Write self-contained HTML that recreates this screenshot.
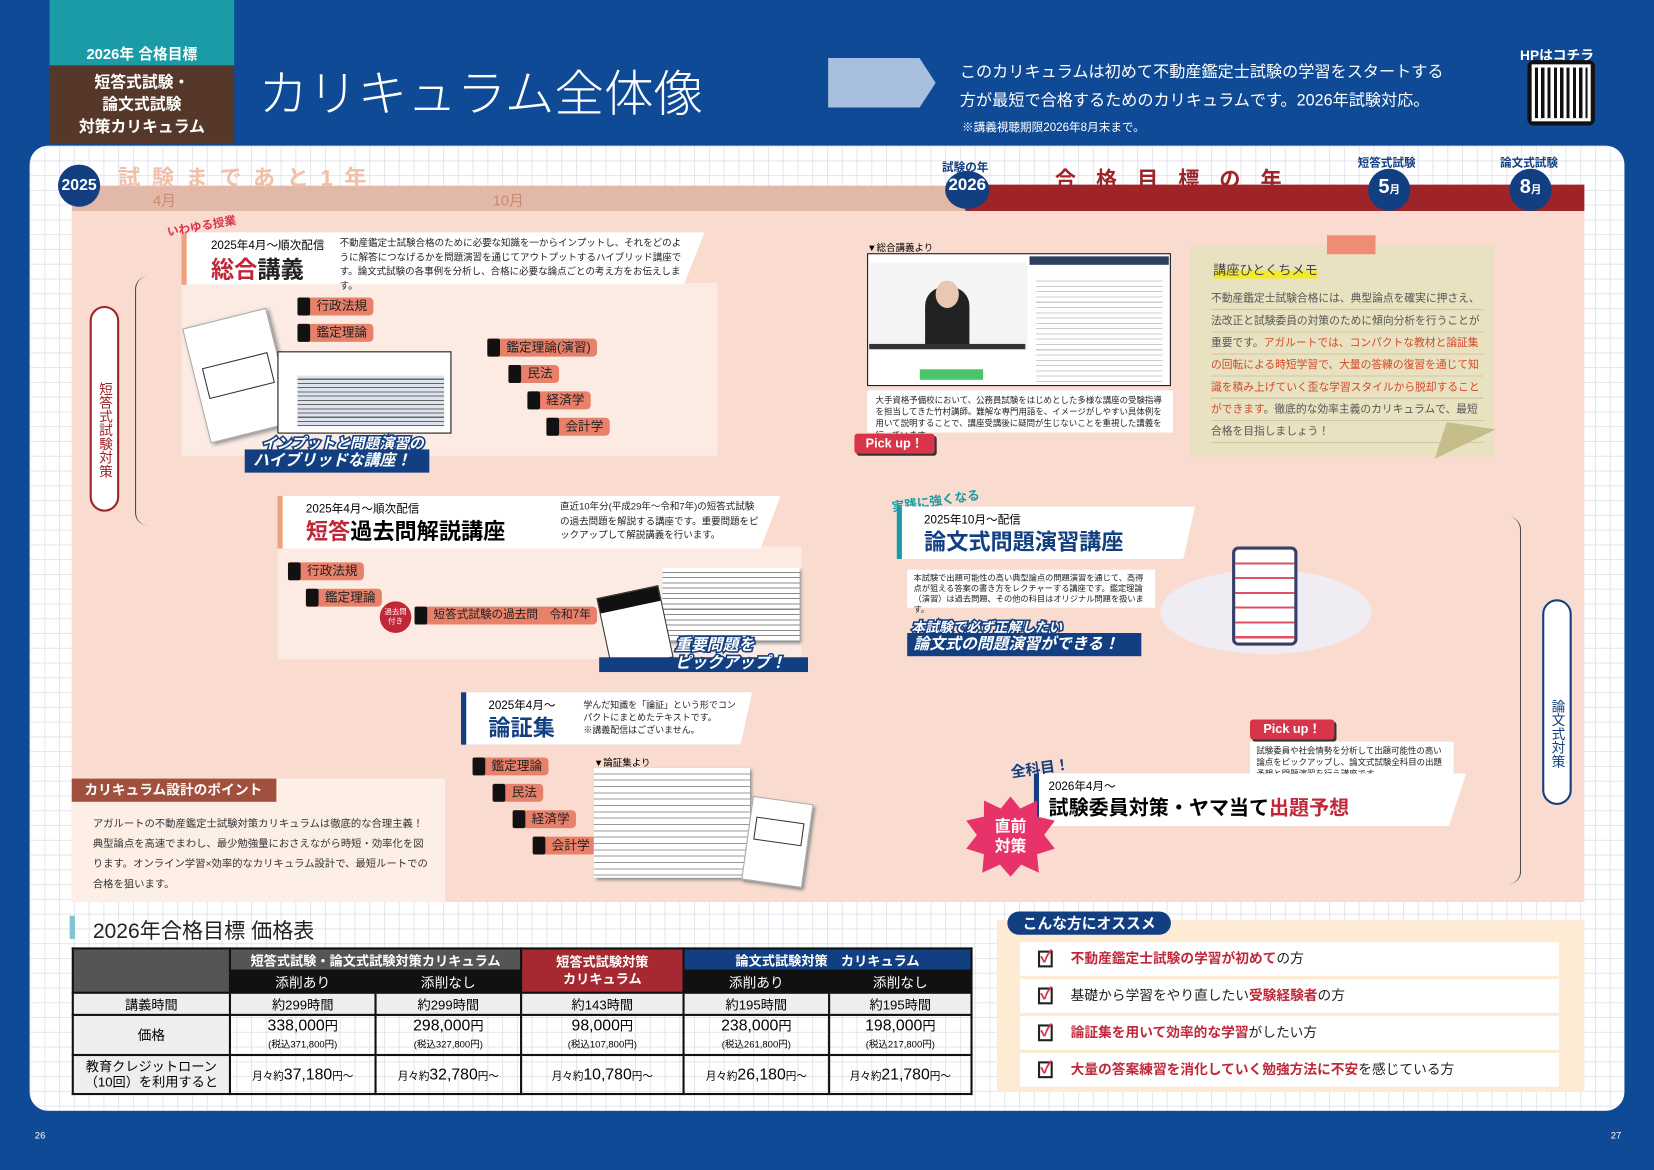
<!DOCTYPE html>
<html><head><meta charset="utf-8">
<style>
*{margin:0;padding:0;box-sizing:border-box}
html,body{width:1654px;height:1170px;overflow:hidden;background:#0f4a96}
body{font-family:"Liberation Sans","Noto Sans CJK JP",sans-serif}
#w{position:absolute;left:0;top:0;width:1568px;height:1109px;transform:scale(1.05485,1.055);transform-origin:0 0;background:#0f4a96}
.a{position:absolute}
.grid{background-color:#fff;background-image:linear-gradient(#e2e5ec 1px,transparent 1px),linear-gradient(90deg,#e2e5ec 1px,transparent 1px);background-size:14px 14px}
.tag{position:absolute;height:17px;background:#e8806a;color:#222;font-size:12px;line-height:17px;padding:0 6px 0 18px;border-radius:0 4px 4px 0;white-space:nowrap}
.tag:before{content:"";position:absolute;left:0;top:0;width:12px;height:17px;background:#111;border-radius:2px}
.card{position:absolute;background:#fff;box-shadow:3px 3px 4px rgba(0,0,0,.25);clip-path:polygon(0 0,100% 0,96% 100%,0 100%)}
.sm{font-size:9px;line-height:13.5px;color:#222}
.circ{position:absolute;border-radius:50%;background:#123f82;color:#fff;font-weight:bold;text-align:center}
table{border-collapse:collapse;font-size:12px;text-align:center}
td{border:2px solid #111;padding:0}
</style></head><body><div id="w">
<!-- header -->
<div class="a" style="left:47px;top:0;width:175px;height:62px;background:#1a9ba6;color:#fff;font-size:14px;font-weight:bold;text-align:center;padding-top:41px">2026年 合格目標</div>
<div class="a" style="left:47px;top:62px;width:175px;height:74px;background:#56382a;color:#fff;font-size:15px;font-weight:bold;text-align:center;line-height:21px;padding-top:6px">短答式試験・<br>論文式試験<br>対策カリキュラム</div>
<div class="a" style="left:245px;top:50px;color:#fff;font-size:47px;font-weight:300;white-space:nowrap">カリキュラム全体像</div>
<div class="a" style="left:785px;top:55px;width:102px;height:47px;background:#a8bfe0;clip-path:polygon(0 0,85% 0,100% 50%,85% 100%,0 100%)"></div>
<div class="a" style="left:910px;top:55px;color:#fff;font-size:15.3px;line-height:27px;white-space:nowrap">このカリキュラムは初めて不動産鑑定士試験の学習をスタートする<br>方が最短で合格するためのカリキュラムです。2026年試験対応。</div>
<div class="a" style="left:912px;top:112px;color:#fff;font-size:11px">※講義視聴期限2026年8月末まで。</div>
<div class="a" style="left:1441px;top:42px;color:#fff;font-size:13px;font-weight:bold">HPはコチラ</div>
<div class="a" style="left:1448px;top:57px;width:64px;height:62px;background:#111;border-radius:6px;padding:7px"><div style="width:100%;height:100%;background:repeating-linear-gradient(90deg,#111 0 3px,#fff 3px 6px),#fff;outline:3px solid #fff"></div></div>
<!-- panel -->
<div class="a grid" style="left:28px;top:138px;width:1512px;height:915px;border-radius:18px"></div>
<!-- timeline -->
<div class="a" style="left:68px;top:176px;width:850px;height:24px;background:#e2b9a9"></div>
<div class="a" style="left:915px;top:175px;width:587px;height:25px;background:#9e2428"></div>
<div class="a" style="left:112px;top:153px;color:#f0c0a8;font-size:21px;font-weight:bold;letter-spacing:11px;white-space:nowrap">試験まであと1年</div>
<div class="a" style="left:145px;top:180px;color:#c98a70;font-size:14px">4月</div>
<div class="a" style="left:467px;top:180px;color:#c98a70;font-size:14px">10月</div>
<div class="circ" style="left:55px;top:156px;width:40px;height:40px;line-height:40px;font-size:15px">2025</div>
<div class="a" style="left:893px;top:150px;color:#123f82;font-size:11px;font-weight:bold">試験の年</div>
<div class="circ" style="left:896px;top:162px;width:42px;height:36px;line-height:28px;font-size:16px">2026</div>
<div class="a" style="left:1000px;top:154px;color:#9e2428;font-size:20px;font-weight:bold;letter-spacing:19px;white-space:nowrap">合格目標の年</div>
<div class="a" style="left:1287px;top:146px;color:#123f82;font-size:11px;font-weight:bold">短答式試験</div>
<div class="circ" style="left:1297px;top:160px;width:40px;height:40px;line-height:36px;font-size:19px">5<small style="font-size:10px">月</small></div>
<div class="a" style="left:1422px;top:146px;color:#123f82;font-size:11px;font-weight:bold">論文式試験</div>
<div class="circ" style="left:1431px;top:160px;width:40px;height:40px;line-height:36px;font-size:19px">8<small style="font-size:10px">月</small></div>
<!-- pink area -->
<div class="a" style="left:68px;top:200px;width:1434px;height:655px;background:#f9dccf"></div>
<div class="a" style="left:68px;top:738px;width:354px;height:117px;background:#fdeee6"></div>
<!-- left bracket -->
<div class="a" style="left:85px;top:290px;width:28px;height:195px;background:#fff;border:2px solid #9e2428;border-radius:14px;color:#9e2428;font-size:13px;writing-mode:vertical-rl;text-align:center;line-height:24px;padding-top:40px">短答式試験対策</div>
<div class="a" style="left:128px;top:262px;width:18px;height:236px;border-left:1px solid #444;border-radius:12px 0 0 12px"></div>
<!-- 総合講義 -->
<div class="a" style="left:172px;top:268px;width:508px;height:164px;background:#fcebe3"></div>
<div class="card" style="left:172px;top:220px;width:496px;height:50px;border-left:5px solid #efa07e"></div>
<div class="a" style="left:158px;top:206px;color:#d8344a;font-size:11px;font-weight:bold;transform:rotate(-10deg)">いわゆる授業</div>
<div class="a" style="left:200px;top:224px;font-size:11px">2025年4月～順次配信</div>
<div class="a" style="left:200px;top:238px;font-size:22px;font-weight:bold;color:#222"><span style="color:#c0283a">総合</span>講義</div>
<div class="a sm" style="left:322px;top:224px;width:325px">不動産鑑定士試験合格のために必要な知識を一からインプットし、それをどのように解答につなげるかを問題演習を通じてアウトプットするハイブリッド講座です。論文式試験の各事例を分析し、合格に必要な論点ごとの考え方をお伝えします。</div>
<div class="tag" style="left:282px;top:282px">行政法規</div>
<div class="tag" style="left:282px;top:307px">鑑定理論</div>
<div class="tag" style="left:462px;top:321px">鑑定理論(演習)</div>
<div class="tag" style="left:482px;top:346px">民法</div>
<div class="tag" style="left:500px;top:371px">経済学</div>
<div class="tag" style="left:518px;top:396px">会計学</div>
<div class="a" style="left:185px;top:300px;width:82px;height:112px;background:#fff;border:1px solid #aaa;transform:rotate(-14deg);box-shadow:2px 2px 4px #888"><div style="margin:40px 8px;height:30px;border:1px solid #333"></div></div>
<div class="a" style="left:263px;top:333px;width:165px;height:78px;background:#fff;border:1px solid #111"><div style="margin:22px 6px 4px 18px;height:48px;background:repeating-linear-gradient(#dde4ee 0 3px,#666 3px 4px)"></div></div>
<div class="a" style="left:248px;top:410px;color:#fff;font-size:14px;font-weight:bold;font-style:italic;-webkit-text-stroke:3px #123f82;paint-order:stroke">インプットと問題演習の</div>
<div class="a" style="left:232px;top:426px;width:175px;height:22px;background:#123f82;color:#fff;font-size:15px;font-weight:bold;font-style:italic;line-height:22px;padding-left:8px">ハイブリッドな講座！</div>
<!-- 短答過去問 -->
<div class="a" style="left:263px;top:518px;width:497px;height:107px;background:#fcebe3"></div>
<div class="card" style="left:263px;top:470px;width:477px;height:50px;border-left:5px solid #efa07e"></div>
<div class="a" style="left:290px;top:474px;font-size:11px">2025年4月～順次配信</div>
<div class="a" style="left:290px;top:488px;font-size:21px;font-weight:bold"><span style="color:#c0283a">短答</span>過去問解説講座</div>
<div class="a sm" style="left:531px;top:474px;width:190px">直近10年分(平成29年～令和7年)の短答式試験の過去問題を解説する講座です。重要問題をピックアップして解説講義を行います。</div>
<div class="tag" style="left:273px;top:533px">行政法規</div>
<div class="tag" style="left:290px;top:558px">鑑定理論</div>
<div class="a" style="left:360px;top:570px;width:30px;height:30px;border-radius:50%;background:#c0283a;color:#fff;font-size:7px;text-align:center;line-height:9px;padding-top:6px">過去問<br>付き</div>
<div class="tag" style="left:393px;top:575px;font-size:11px">短答式試験の過去問　令和7年</div>
<div class="a" style="left:628px;top:538px;width:130px;height:70px;background:#fff;box-shadow:2px 2px 3px #888;background-image:repeating-linear-gradient(#fff 0 4px,#888 4px 5px)"></div>
<div class="a" style="left:572px;top:560px;width:60px;height:70px;background:#fff;border:1px solid #333;transform:rotate(-12deg)"><div style="height:14px;background:#111"></div></div>
<div class="a" style="left:568px;top:623px;width:198px;height:14px;background:#123f82"></div>
<div class="a" style="left:640px;top:603px;color:#fff;font-size:15px;font-weight:bold;font-style:italic;-webkit-text-stroke:3px #123f82;paint-order:stroke;line-height:17px">重要問題を<br>ピックアップ！</div>
<!-- 論証集 -->
<div class="card" style="left:437px;top:656px;width:276px;height:50px;border-left:5px solid #123f82"></div>
<div class="a" style="left:463px;top:660px;font-size:11px">2025年4月～</div>
<div class="a" style="left:463px;top:674px;font-size:21px;font-weight:bold;color:#123f82">論証集</div>
<div class="a sm" style="left:553px;top:662px;width:150px;font-size:8.5px;line-height:12px">学んだ知識を「論証」という形でコンパクトにまとめたテキストです。<br>※講義配信はございません。</div>
<div class="tag" style="left:448px;top:718px">鑑定理論</div>
<div class="tag" style="left:467px;top:743px">民法</div>
<div class="tag" style="left:486px;top:768px">経済学</div>
<div class="tag" style="left:505px;top:793px">会計学</div>
<div class="a" style="left:563px;top:716px;font-size:9px">▼論証集より</div>
<div class="a" style="left:563px;top:728px;width:148px;height:104px;background:#fff;box-shadow:2px 2px 3px #888;background-image:repeating-linear-gradient(#fff 0 5px,#999 5px 6px)"></div>
<div class="a" style="left:708px;top:758px;width:58px;height:80px;background:#fff;border:1px solid #aaa;transform:rotate(8deg);box-shadow:2px 2px 3px #888"><div style="margin:18px 5px;height:22px;border:1px solid #333"></div></div>
<!-- point box -->
<div class="a" style="left:68px;top:738px;width:194px;height:22px;background:#a0503c;color:#fff;font-size:13px;font-weight:bold;line-height:22px;padding-left:12px">カリキュラム設計のポイント</div>
<div class="a" style="left:88px;top:772px;width:320px;font-size:9.8px;line-height:19px;color:#333">アガルートの不動産鑑定士試験対策カリキュラムは徹底的な合理主義！典型論点を高速でまわし、最少勉強量におさえながら時短・効率化を図ります。オンライン学習×効率的なカリキュラム設計で、最短ルートでの合格を狙います。</div>
<!-- video -->
<div class="a" style="left:822px;top:228px;font-size:9px">▼総合講義より</div>
<div class="a" style="left:822px;top:240px;width:288px;height:126px;background:#fff;border:1px solid #111"></div>
<div class="a" style="left:824px;top:249px;width:150px;height:83px;background:#f4f4f4"></div>
<div class="a" style="left:877px;top:272px;width:42px;height:58px;background:#222;border-radius:18px 18px 0 0"></div>
<div class="a" style="left:887px;top:266px;width:22px;height:26px;background:#e8c8b0;border-radius:50%"></div>
<div class="a" style="left:824px;top:326px;width:148px;height:5px;background:#333"></div>
<div class="a" style="left:976px;top:243px;width:132px;height:8px;background:#2b3f62"></div>
<div class="a" style="left:982px;top:262px;width:120px;height:100px;background:repeating-linear-gradient(#fff 0 4px,#ccc 4px 5px)"></div>
<div class="a" style="left:872px;top:350px;width:60px;height:10px;background:#4cc46a"></div>
<div class="a sm" style="left:822px;top:370px;width:290px;height:40px;background:#fff;font-size:8px;line-height:11px;padding:4px 8px">大手資格予備校において、公務員試験をはじめとした多様な講座の受験指導を担当してきた竹村講師。難解な専門用語を、イメージがしやすい具体例を用いて説明することで、講座受講後に疑問が生じないことを重視した講義を行っています。</div>
<div class="a" style="left:810px;top:411px;width:76px;height:19px;background:#d8344a;color:#fff;font-size:12px;font-weight:bold;line-height:19px;text-align:center;border-radius:3px;box-shadow:2px 2px 0 #333">Pick up！</div>
<!-- memo -->
<div class="a" style="left:1128px;top:233px;width:288px;height:200px;background:#e9e2c1"></div>
<div class="a" style="left:1258px;top:223px;width:46px;height:18px;background:#ee8c74"></div>
<div class="a" style="left:1150px;top:245px;font-size:12.5px;color:#444;background:linear-gradient(transparent 60%,#f5ea2a 60%)">講座ひとくちメモ</div>
<div class="a" style="left:1148px;top:273px;width:258px;font-size:10.2px;line-height:21px;color:#555;background:repeating-linear-gradient(transparent 0 20px,#cfc7a6 20px 21px)">不動産鑑定士試験合格には、典型論点を確実に押さえ、法改正と試験委員の対策のために傾向分析を行うことが重要です。<span style="color:#d4482a">アガルートでは、コンパクトな教材と論証集の回転による時短学習で、大量の答練の復習を通じて知識を積み上げていく歪な学習スタイルから脱却することができます</span>。徹底的な効率主義のカリキュラムで、最短合格を目指しましょう！</div>
<div class="a" style="left:1360px;top:400px;width:58px;height:35px;background:#c5bd8a;clip-path:polygon(100% 20%,0 100%,20% 0)"></div>
<!-- 論文式 -->
<div class="a" style="left:845px;top:466px;color:#1a9ba6;font-size:12px;font-weight:bold;transform:rotate(-8deg)">実践に強くなる</div>
<div class="card" style="left:850px;top:480px;width:283px;height:50px;border-left:5px solid #1a9ba6"></div>
<div class="a" style="left:876px;top:484px;font-size:11px">2025年10月～配信</div>
<div class="a" style="left:876px;top:498px;font-size:21px;font-weight:bold;color:#123f82">論文式問題演習講座</div>
<div class="a sm" style="left:860px;top:540px;width:235px;height:36px;background:#fff;font-size:7.8px;line-height:10px;padding:3px 6px">本試験で出題可能性の高い典型論点の問題演習を通じて、高得点が狙える答案の書き方をレクチャーする講座です。鑑定理論（演習）は過去問題、その他の科目はオリジナル問題を扱います。</div>
<div class="a" style="left:864px;top:584px;color:#fff;font-size:13px;font-weight:bold;font-style:italic;-webkit-text-stroke:3px #123f82;paint-order:stroke">本試験で必ず正解したい</div>
<div class="a" style="left:860px;top:600px;width:222px;height:22px;background:#123f82;color:#fff;font-size:15px;font-weight:bold;font-style:italic;line-height:22px;padding-left:6px">論文式の問題演習ができる！</div>
<div class="a" style="left:1100px;top:540px;width:200px;height:80px;background:#f0ecf4;border-radius:50%"></div>
<div class="a" style="left:1168px;top:518px;width:62px;height:94px;background:#fff;border:3px solid #38406a;border-radius:6px;background-image:repeating-linear-gradient(#fff 0 12px,#e05060 12px 14px)"></div>
<!-- right bracket -->
<div class="a" style="left:1424px;top:490px;width:18px;height:348px;border-right:1px solid #444;border-radius:0 12px 12px 0"></div>
<div class="a" style="left:1462px;top:568px;width:28px;height:195px;background:#fff;border:2px solid #123f82;border-radius:14px;color:#123f82;font-size:13px;writing-mode:vertical-rl;text-align:center;line-height:24px;padding-top:60px">論文式対策</div>
<!-- 試験委員 -->
<div class="a" style="left:1185px;top:682px;width:80px;height:19px;background:#d8344a;color:#fff;font-size:12px;font-weight:bold;line-height:19px;text-align:center;border-radius:3px;box-shadow:2px 2px 0 #333">Pick up！</div>
<div class="a sm" style="left:1185px;top:703px;width:193px;height:40px;background:#fff;font-size:8px;line-height:11px;padding:3px 6px">試験委員や社会情勢を分析して出題可能性の高い論点をピックアップし、論文式試験全科目の出題予想と問題演習を行う講座です。</div>
<div class="card" style="left:980px;top:733px;width:410px;height:50px;border-left:5px solid #123f82"></div>
<div class="a" style="left:958px;top:718px;color:#123f82;font-size:14px;font-weight:bold;transform:rotate(-8deg)">全科目！</div>
<div class="a" style="left:994px;top:737px;font-size:11px">2026年4月～</div>
<div class="a" style="left:994px;top:751px;font-size:19px;font-weight:bold;white-space:nowrap">試験委員対策・ヤマ当て<span style="color:#c0283a">出題予想</span></div>
<div class="a" style="left:916px;top:755px;width:84px;height:76px;background:#e8336a;clip-path:polygon(50% 0,61% 15%,80% 5%,80% 25%,100% 30%,88% 48%,100% 65%,80% 72%,82% 95%,62% 85%,50% 100%,38% 85%,18% 95%,20% 72%,0 65%,12% 48%,0 30%,20% 25%,20% 5%,39% 15%);color:#fff;font-size:15px;font-weight:bold;text-align:center;line-height:19px;padding-top:19px">直前<br>対策</div>
<!-- price table -->
<div class="a" style="left:66px;top:868px;width:5px;height:22px;background:#7fc4d0"></div>
<div class="a" style="left:88px;top:866px;font-size:20px;color:#222">2026年合格目標 価格表</div>
<table class="a" style="left:68px;top:898px;width:854px">
<tr style="height:21px;color:#fff;font-weight:bold;font-size:12.5px"><td rowspan="2" style="width:149px;background:#555"></td><td colspan="2" style="background:#555">短答式試験・論文式試験対策カリキュラム</td><td rowspan="2" style="width:154px;background:#a62830;line-height:16px">短答式試験対策<br>カリキュラム</td><td colspan="2" style="background:#123f82">論文式試験対策　カリキュラム</td></tr>
<tr style="height:21px;background:#111;color:#fff;font-size:13px"><td style="width:138px">添削あり</td><td style="width:138px">添削なし</td><td style="width:138px">添削あり</td><td>添削なし</td></tr>
<tr style="height:21px;background:#eee;font-size:12.5px"><td>講義時間</td><td>約299時間</td><td>約299時間</td><td>約143時間</td><td>約195時間</td><td>約195時間</td></tr>
<tr style="height:38px;font-size:15px;line-height:15px"><td style="background:#eee;font-size:13px">価格</td><td>338,000<small>円</small><br><small style="font-size:9px">(税込371,800円)</small></td><td>298,000<small>円</small><br><small style="font-size:9px">(税込327,800円)</small></td><td>98,000<small>円</small><br><small style="font-size:9px">(税込107,800円)</small></td><td>238,000<small>円</small><br><small style="font-size:9px">(税込261,800円)</small></td><td>198,000<small>円</small><br><small style="font-size:9px">(税込217,800円)</small></td></tr>
<tr style="height:37px;font-size:15px"><td style="background:#eee;font-size:12.5px;line-height:15px">教育クレジットローン<br>（10回）を利用すると</td><td><small style="font-size:10px">月々約</small>37,180<small style="font-size:10px">円～</small></td><td><small style="font-size:10px">月々約</small>32,780<small style="font-size:10px">円～</small></td><td><small style="font-size:10px">月々約</small>10,780<small style="font-size:10px">円～</small></td><td><small style="font-size:10px">月々約</small>26,180<small style="font-size:10px">円～</small></td><td><small style="font-size:10px">月々約</small>21,780<small style="font-size:10px">円～</small></td></tr>
</table>
<!-- recommend -->
<div class="a" style="left:945px;top:872px;width:557px;height:163px;background:#fdebd3"></div>
<div class="a" style="left:955px;top:864px;width:155px;height:22px;background:#123f82;color:#fff;font-size:14px;font-weight:bold;line-height:22px;text-align:center;border-radius:11px">こんな方にオススメ</div>
<div class="a" style="left:967px;top:893px;width:511px;height:32px;background:#fff;font-size:13px;line-height:32px;padding-left:48px;color:#c0283a;font-weight:bold">不動産鑑定士試験の学習が初めて<span style="color:#222;font-weight:normal">の方</span></div>
<div class="a" style="left:967px;top:928px;width:511px;height:32px;background:#fff;font-size:13px;line-height:32px;padding-left:48px;color:#222">基礎から学習をやり直したい<span style="color:#c0283a;font-weight:bold">受験経験者</span>の方</div>
<div class="a" style="left:967px;top:963px;width:511px;height:32px;background:#fff;font-size:13px;line-height:32px;padding-left:48px;color:#c0283a;font-weight:bold">論証集を用いて効率的な学習<span style="color:#222;font-weight:normal">がしたい方</span></div>
<div class="a" style="left:967px;top:998px;width:511px;height:32px;background:#fff;font-size:13px;line-height:32px;padding-left:48px;color:#c0283a;font-weight:bold">大量の答案練習を消化していく勉強方法に不安<span style="color:#222;font-weight:normal">を感じている方</span></div>
<div class="a" style="left:984px;top:901px;width:14px;height:16px;border:2px solid #222;color:#d8344a;font-size:16px;line-height:10px;font-weight:bold">✓</div>
<div class="a" style="left:984px;top:936px;width:14px;height:16px;border:2px solid #222;color:#d8344a;font-size:16px;line-height:10px;font-weight:bold">✓</div>
<div class="a" style="left:984px;top:971px;width:14px;height:16px;border:2px solid #222;color:#d8344a;font-size:16px;line-height:10px;font-weight:bold">✓</div>
<div class="a" style="left:984px;top:1006px;width:14px;height:16px;border:2px solid #222;color:#d8344a;font-size:16px;line-height:10px;font-weight:bold">✓</div>
<div class="a" style="left:33px;top:1071px;color:#fff;font-size:9px">26</div>
<div class="a" style="left:1527px;top:1071px;color:#fff;font-size:9px">27</div>
</div></body></html>
